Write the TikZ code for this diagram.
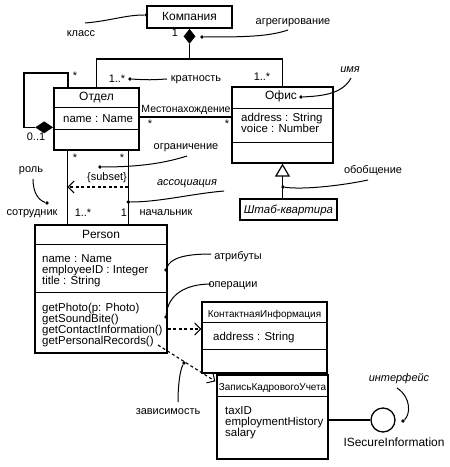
\documentclass[tikz,border=0pt]{standalone}
\usepackage{fontspec}
\setmainfont{Liberation Sans}
\usetikzlibrary{shapes.geometric,arrows.meta,calc}
\begin{document}
\begin{tikzpicture}[x=1bp,y=-1bp,
  box/.style={draw,line width=1.3bp,inner sep=0pt},
  ln/.style={line width=1.3bp},
  note/.style={line width=1bp},
  dot/.style={circle,fill,inner sep=0pt,minimum size=3.8bp},
  lbl/.style={inner sep=0pt,anchor=base,font=\fontsize{11}{12}\selectfont},
  ilbl/.style={lbl,font=\fontsize{11}{12}\selectfont\itshape},
  ttl/.style={inner sep=0pt,anchor=base,font=\fontsize{12}{13}\selectfont},
  sttl/.style={inner sep=0pt,anchor=base,font=\fontsize{10}{11}\selectfont},
  att/.style={inner sep=0pt,anchor=base west,font=\fontsize{11.5}{12}\selectfont},
  vee/.style={-{Straight Barb[length=6bp,width=12bp,line width=1bp]}},
  dsh/.style={dash pattern=on 3bp off 2.5bp,line width=1.1bp},
  star/.style={lbl}
]
\useasboundingbox (0,0) rectangle (450,467);

% ---------- classes ----------
\node[box,minimum width=85bp,minimum height=22bp] (komp) at (189.5,17) {};
\node[ttl] (kompT) at (189.5,21) {Компания};
\node[diamond,fill,inner sep=0pt,minimum width=12bp,minimum height=15bp,anchor=north] (agd) at (komp.south) {};

\node[box,minimum width=85bp,minimum height=62bp] (otd) at (96.5,119) {};
\draw[ln] ($(otd.north west)+(0,20)$) -- ($(otd.north east)+(0,20)$);
\draw[ln] ($(otd.north west)+(0,42)$) -- ($(otd.north east)+(0,42)$);
\node[ttl] (otdT) at (96.5,101) {Отдел};
\node[att] (otdA) at (63,123) {name : Name};

\node[box,minimum width=101bp,minimum height=76bp] (ofis) at (282.5,125) {};
\draw[ln] ($(ofis.north west)+(0,22)$) -- ($(ofis.north east)+(0,22)$);
\draw[ln] ($(ofis.north west)+(0,56)$) -- ($(ofis.north east)+(0,56)$);
\node[ttl] (ofisT) at (281,100) {Офис};
\node[att] (ofisA1) at (241,122) {address : String};
\node[att] (ofisA2) at (241,133) {voice : Number};

\node[box,minimum width=97bp,minimum height=21bp] (shtab) at (288.5,209.5) {};
\node[ttl,font=\fontsize{11.5}{12}\selectfont\itshape] (shtabT) at (288.5,214) {Штаб-квартира};

\node[box,minimum width=132bp,minimum height=128bp] (pers) at (101,289) {};
\draw[ln] ($(pers.north west)+(0,20)$) -- ($(pers.north east)+(0,20)$);
\draw[ln] ($(pers.north west)+(0,68)$) -- ($(pers.north east)+(0,68)$);
\node[ttl] (persT) at (101,238) {Person};
\node[att] (pa1) at (42,262) {name : Name};
\node[att] (pa2) at (42,273) {employeeID : Integer};
\node[att] (pa3) at (42,284) {title : String};
\node[att] (po1) at (42,311) {getPhoto(p: Photo)};
\node[att] (po2) at (42,322) {getSoundBite()};
\node[att] (po3) at (42,333) {getContactInformation()};
\node[att] (po4) at (42,344) {getPersonalRecords()};

\node[box,minimum width=125bp,minimum height=71bp] (kont) at (264.5,337.5) {};
\draw[ln] ($(kont.north west)+(0,21)$) -- ($(kont.north east)+(0,21)$);
\draw[ln] ($(kont.north west)+(0,48)$) -- ($(kont.north east)+(0,48)$);
\node[sttl] (kontT) at (264.5,317) {КонтактнаяИнформация};
\node[att] (kontA) at (213,340) {address : String};

\node[box,minimum width=111bp,minimum height=84bp] (zap) at (272.5,417) {};
\draw[ln] ($(zap.north west)+(0,22)$) -- ($(zap.north east)+(0,22)$);
\node[sttl] (zapT) at (272.5,390) {ЗаписьКадровогоУчета};
\node[att] (za1) at (225,414) {taxID};
\node[att] (za2) at (225,425) {employmentHistory};
\node[att] (za3) at (225,436) {salary};

\node[draw,circle,line width=1.3bp,minimum size=24bp,inner sep=0pt] (isec) at (383,420) {};
\draw[ln] (isec.west -| zap.east) -- (isec.west);
\node[lbl,font=\fontsize{12}{13}\selectfont] (isecL) at (394,446) {ISecureInformation};

% ---------- aggregation Компания ----------
\coordinate (aggY) at (0,59);
\draw[ln] (agd.south) -- (aggY -| agd.south);
\draw[ln] (otd.north) |- (aggY -| ofis.north) -- (ofis.north);
\node[lbl] (m1) at (117,83) {1..*};
\node[lbl] (m2) at (262,81) {1..*};
\node[lbl] (one1) at (175,37) {1};

% ---------- reflexive aggregation ----------
\node[diamond,fill,inner sep=0pt,minimum width=18bp,minimum height=12bp,anchor=east] (refd) at ($(otd.north west)+(0,40)$) {};
\coordinate (loopTR) at (68,73);
\draw[ln] (refd.west) -- ++(-11,0) |- (loopTR) -- (loopTR |- otd.north);
\node[star] (rs) at (75,80) {*};
\node[lbl] (r01) at (36,141) {0..1};

% ---------- location ----------
\coordinate (locA) at ($(otd.east)+(0,-2)$);
\draw[ln] (locA) -- (locA -| ofis.west);
\node[lbl,font=\fontsize{10.5}{12}\selectfont] (locL) at (186,113) {Местонахождение};
\node[star] (ls1) at (150,128) {*};
\node[star] (ls2) at (227,128) {*};

% ---------- employee / boss ----------
\coordinate (emp1) at ($(otd.south west)+(14,0)$);
\coordinate (boss1) at ($(otd.south west)+(75,0)$);
\draw[ln] (emp1) -- (emp1 |- pers.north);
\draw[ln] (boss1) -- (boss1 |- pers.north);
\node[star] (es1) at (75,162) {*};
\node[star] (es2) at (122,162) {*};
\coordinate (subY) at (0,187);
\draw[dsh,vee] (subY -| boss1) -- (subY -| emp1);
\node[lbl] (subL) at (107,181) {\{subset\}};
\node[lbl] (sotr) at (32,216) {сотрудник};
\node[lbl] (em1) at (83,217) {1..*};
\node[lbl] (bo1) at (124,217) {1};
\node[lbl] (nach) at (166,216) {начальник};

% ---------- generalization ----------
\draw[ln,-{Triangle[open,length=13bp,width=15bp,line width=1.2bp]}] (ofis.south |- shtab.north) -- (ofis.south);

% ---------- dependencies ----------
\coordinate (dep1) at ($(pers.east)+(0,40)$);
\draw[dsh,vee] (dep1) -- (dep1 -| kont.west);
\coordinate (dep2) at (158,345);
\draw[dsh,vee] (dep2) -- ($(zap.north west)+(-1,7)$);

% ---------- annotations ----------
\node[lbl] (klassL) at (81,37) {класс};
\node[dot] (klassD) at ($(komp.west)+(0,-2)$) {};
\coordinate (klassS) at (85,23);
\draw[note] (klassS) .. controls (110,21) and (125,15) .. (klassD);

\node[lbl] (agrL) at (293,25) {агрегирование};
\node[dot] (agrD) at (202,37) {};
\coordinate (agrS) at (288,30);
\draw[note] (agrS) .. controls (268,37) and (240,37) .. (agrD);

\node[lbl] (kratL) at (196,82) {кратность};
\node[dot] (kratD) at (130,79) {};
\coordinate (kratS) at (167,79);
\draw[note] (kratS) .. controls (150,80) .. (kratD);

\node[ilbl] (imyaL) at (350,73) {имя};
\node[dot] (imyaD) at (301,97) {};
\coordinate (imyaS) at (351,78);
\draw[note] (imyaS) .. controls (343,93) and (325,96) .. (imyaD);

\node[lbl] (ogrL) at (186,150) {ограничение};
\node[dot] (ogrD) at (100,167) {};
\coordinate (ogrS) at (187,156);
\draw[note] (ogrS) .. controls (165,163) and (140,167) .. (ogrD);

\node[ilbl] (assL) at (187,186) {ассоциация};
\node[dot] (assD) at (boss1 |- 0,202) {};
\coordinate (assS) at (224,191);
\draw[note] (assS) .. controls (190,194) and (160,202) .. (assD);

\node[lbl] (rolL) at (31,173) {роль};
\node[dot] (rolD) at (47,203) {};
\coordinate (rolS) at (33,179);
\draw[note] (rolS) .. controls (33,192) and (38,200) .. (rolD);

\node[lbl] (obL) at (373,174) {обобщение};
\node[dot] (obD) at (283,187) {};
\coordinate (obS) at (368,180);
\draw[note] (obS) .. controls (345,185) and (305,190) .. (obD);

\node[lbl] (atrL) at (238,259) {атрибуты};
\node[dot] (atrD) at (166,270) {};
\coordinate (atrS) at (211,254);
\draw[note] (atrS) .. controls (185,254) and (170,258) .. (atrD);

\node[lbl] (opL) at (233,287) {операции};
\node[dot] (opD) at (166,317) {};
\coordinate (opS) at (211,284);
\draw[note] (opS) .. controls (185,284) and (168,295) .. (opD);

\node[lbl] (zavL) at (168,414) {зависимость};
\node[dot] (zavD) at (184,363) {};
\coordinate (zavS) at (178,402);
\draw[note] (zavS) .. controls (178,385) and (180,370) .. (zavD);

\node[ilbl] (intL) at (399,381) {интерфейс};
\node[dot] (intD) at (403,421) {};
\coordinate (intS) at (397,388);
\draw[note] (intS) .. controls (412,398) and (410,415) .. (intD);
\end{tikzpicture}
\end{document}
